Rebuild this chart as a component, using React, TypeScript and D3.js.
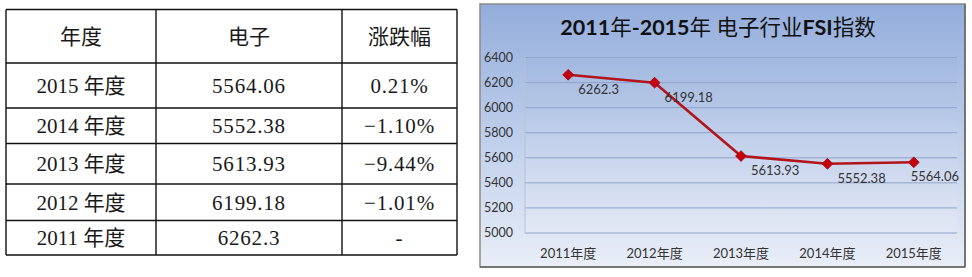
import React from "react";
import * as d3 from "d3";

const years = ["2011年度", "2012年度", "2013年度", "2014年度", "2015年度"];
const values = [6262.3, 6199.18, 5613.93, 5552.38, 5564.06];
const valueLabels = ["6262.3", "6199.18", "5613.93", "5552.38", "5564.06"];
const yTicks = [5000, 5200, 5400, 5600, 5800, 6000, 6200, 6400];

const tableHeader = ["年度", "电子", "涨跌幅"];
const tableYears = ["2015 年度", "2014 年度", "2013 年度", "2012 年度", "2011 年度"];
const tableValues = ["5564.06", "5552.38", "5613.93", "6199.18", "6262.3"];
const tableChanges = ["0.21%", "−1.10%", "−9.44%", "−1.01%", "-"];

const colX = [6, 156, 342, 457];
const rowY = [9.5, 63, 108, 143.5, 184, 220.5, 255];

export default function App() {
  const plotRight = 957;
  const x = d3.scaleBand<string>().domain(years).range([525, plotRight]);
  const y = d3.scaleLinear().domain([5000, 6400]).range([233, 57.5]);
  const cx = (d: string) => (x(d) as number) + x.bandwidth() / 2;
  const line = d3
    .line<number>()
    .x((_, i) => cx(years[i]))
    .y((v) => y(v));
  const diamond = d3.symbol().type(d3.symbolSquare).size(58)();

  const rows = tableYears.map((yr, i) => [yr, tableValues[i], tableChanges[i]]);
  const serif = "'Liberation Serif', 'Noto Sans CJK SC', serif";
  const sans = "Lato, 'Noto Sans CJK SC', sans-serif";

  return (
    <svg
      width={972}
      height={277}
      style={{ position: "absolute", left: 0, top: 0, background: "#fff" }}
    >
      <defs>
        <linearGradient id="bg" x1="0" y1="0" x2="0" y2="1">
          <stop offset="0" stopColor="#93addb" />
          <stop offset="0.55" stopColor="#c2d1ec" />
          <stop offset="1" stopColor="#e9eef7" />
        </linearGradient>
        <linearGradient id="plotbg" x1="0" y1="0" x2="0" y2="1">
          <stop offset="0" stopColor="#a1b8df" />
          <stop offset="0.6" stopColor="#cbd7ee" />
          <stop offset="1" stopColor="#e2e8f4" />
        </linearGradient>
      </defs>

      {/* Table */}
      <g>
        {rowY.map((ry, i) => (
          <line key={"h" + i} x1={colX[0]} x2={colX[3]} y1={ry} y2={ry} stroke="#111" strokeWidth={1.4} />
        ))}
        {colX.map((c, i) => (
          <line key={"v" + i} x1={c} x2={c} y1={rowY[0]} y2={rowY[6]} stroke="#111" strokeWidth={1.4} />
        ))}
        {tableHeader.map((t, j) => (
          <text
            key={"th" + j}
            x={(colX[j] + colX[j + 1]) / 2}
            y={(rowY[0] + rowY[1]) / 2}
            dy="0.36em"
            textAnchor="middle"
            fontFamily="'Noto Sans CJK SC', sans-serif"
            fontSize={21}
            fill="#1a1a1a"
          >
            {t}
          </text>
        ))}
        {rows.map((r, i) =>
          r.map((t, j) => (
            <text
              key={"td" + i + "-" + j}
              x={(colX[j] + colX[j + 1]) / 2}
              y={(rowY[i + 1] + rowY[i + 2]) / 2}
              dy="0.36em"
              textAnchor="middle"
              fontFamily={serif}
              fontSize={21}
              letterSpacing={j === 0 ? 0 : 0.8}
              fill="#1a1a1a"
            >
              {t}
            </text>
          ))
        )}
      </g>

      {/* Chart panel */}
      <rect x={480} y={4} width={485} height={263} fill="url(#bg)" stroke="#8a8a8a" strokeWidth={1.5} />
      <line x1={965} x2={965} y1={4} y2={267} stroke="#666" strokeWidth={1.5} />
      <line x1={480} x2={965} y1={267} y2={267} stroke="#666" strokeWidth={1.5} />
      <rect x={525} y={57.5} width={432} height={175.5} fill="url(#plotbg)" />
      <text x={718} y={35} textAnchor="middle" fontFamily={sans} fontSize={21.5} fill="#111">
        <tspan fontWeight="bold">2011</tspan>
        <tspan>年</tspan>
        <tspan fontWeight="bold">-2015</tspan>
        <tspan>年 电子行业</tspan>
        <tspan fontWeight="bold">FSI</tspan>
        <tspan>指数</tspan>
      </text>

      {yTicks.map((t) => (
        <g key={t}>
          <line x1={525} x2={plotRight} y1={y(t)} y2={y(t)} stroke="#8ea3c9" strokeWidth={1} />
          <text x={513} y={y(t)} dy="0.35em" textAnchor="end" fontFamily={sans} fontSize={12.5} fill="#333">
            {t}
          </text>
        </g>
      ))}
      <line x1={525} x2={525} y1={57.5} y2={233} stroke="#b5c2d9" strokeWidth={1} />

      {years.map((yr) => (
        <text key={yr} x={cx(yr)} y={258} textAnchor="middle" fontFamily={sans} fontSize={13} fill="#333">
          {yr}
        </text>
      ))}

      <path d={line(values) || ""} fill="none" stroke="#b2141c" strokeWidth={2.6} strokeLinejoin="round" />
      {values.map((v, i) => (
        <path
          key={"m" + i}
          d={diamond || ""}
          transform={`translate(${cx(years[i])},${y(v)}) rotate(45)`}
          fill="#c4000b"
          stroke="#a80010"
          strokeWidth={0.8}
        />
      ))}
      {values.map((v, i) => {
        const lx = cx(years[i]) + 10;
        const estW = valueLabels[i].length * 6.7;
        const overflow = lx + estW > plotRight + 2;
        return (
          <text
            key={"l" + i}
            x={overflow ? plotRight + 2 : lx}
            y={y(v) + 19}
            textAnchor={overflow ? "end" : "start"}
            fontFamily={sans}
            fontSize={13}
            fill="#333"
          >
            {valueLabels[i]}
          </text>
        );
      })}
    </svg>
  );
}
